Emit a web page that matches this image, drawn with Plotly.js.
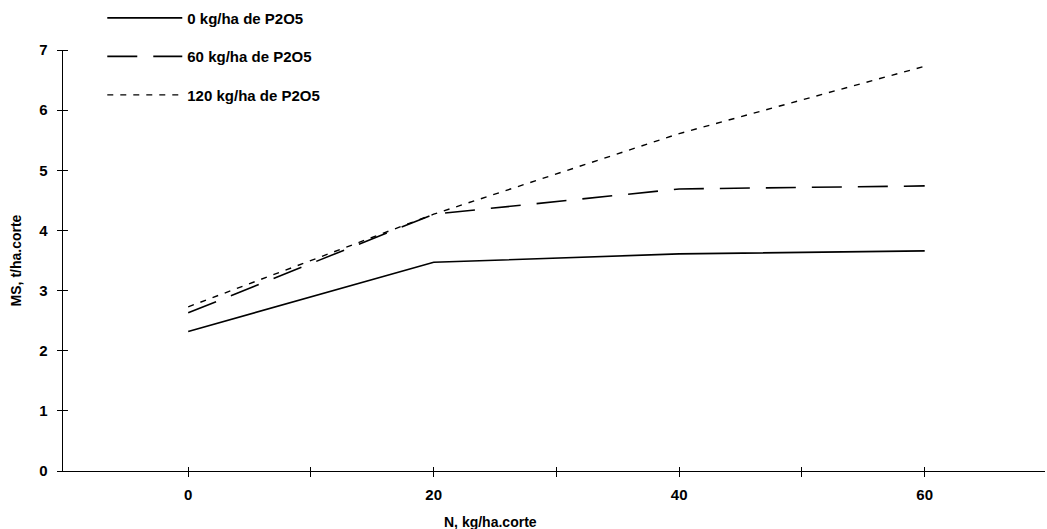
<!DOCTYPE html>
<html>
<head>
<meta charset="utf-8">
<script src="https://cdn.plot.ly/plotly-3.0.1.min.js"></script>
<style>html,body{margin:0;padding:0;background:#fff;}#chart{width:1047px;height:529px;}</style>
</head>
<body>
<div id="chart"></div>
<script>
// N doses (kg/ha.corte)
const nDoses = [0, 20, 40, 60];
// Dry matter yield (MS, t/ha.corte) for each P2O5 level
const p0 = [2.32, 3.47, 3.61, 3.66];
const p60 = [2.63, 4.27, 4.69, 4.74];
const p120 = [2.73, 4.27, 5.61, 6.73];
const seriesNames = ['0 kg/ha de P2O5', '60 kg/ha de P2O5', '120 kg/ha de P2O5'];
const xTickVals = [0, 20, 40, 60];
const xMinorVals = [0, 10, 20, 30, 40, 50, 60];
const yTickVals = [0, 1, 2, 3, 4, 5, 6, 7];
const xTitle = 'N, kg/ha.corte';
const yTitle = 'MS, t/ha.corte';

const font = {family: 'Liberation Sans, Arial, sans-serif', size: 15, color: '#000', weight: 'bold'};
const titleFont = {family: 'Liberation Sans, Arial, sans-serif', size: 14, color: '#000', weight: 'bold'};

const traces = [
  {x: nDoses, y: p0, name: seriesNames[0], legendgroup: 'a', mode: 'lines', line: {color: '#000', width: 1.6, dash: 'solid'}},
  {x: nDoses, y: p60, name: seriesNames[1], legendgroup: 'b', mode: 'lines', line: {color: '#000', width: 1.6, dash: '30px,16px'}},
  {x: nDoses, y: p120, name: seriesNames[2], legendgroup: 'c', mode: 'lines', line: {color: '#000', width: 1.4, dash: '6px,7px'}},
  // transparent trace that carries the overlay axes used for the crossing tick marks
  {x: nDoses, y: p0, xaxis: 'x2', yaxis: 'y2', mode: 'lines', line: {width: 1, color: 'rgba(0,0,0,0)'}, showlegend: false, hoverinfo: 'skip'}
];

const xr = [-10.2, 69.8];
const yr = [0, 7];
const plotW = 1047 - 63 - 2, plotH = 529 - 39 - 58;

const layout = {
  width: 1047, height: 529,
  margin: {l: 63, r: 2, t: 39, b: 58},
  paper_bgcolor: '#fff', plot_bgcolor: '#fff',
  font: font,
  showlegend: true,
  legend: {
    x: 0.04, y: 1.115, xanchor: 'left', yanchor: 'top',
    font: font, tracegroupgap: 16, itemwidth: 75,
    bgcolor: 'rgba(0,0,0,0)'
  },
  xaxis: {
    range: xr, showgrid: false, zeroline: false,
    showline: true, linecolor: '#000', linewidth: 1.3,
    tickmode: 'array', tickvals: xMinorVals,
    ticktext: xMinorVals.map(v => xTickVals.includes(v) ? String(v) : ''),
    ticks: 'outside', ticklen: 5, tickcolor: '#000', tickwidth: 1,
    ticklabelstandoff: 5,
    tickfont: font
  },
  yaxis: {
    range: yr, showgrid: false, zeroline: false,
    showline: true, linecolor: '#000', linewidth: 1.3,
    tickmode: 'array', tickvals: yTickVals,
    ticks: 'outside', ticklen: 5, tickcolor: '#000', tickwidth: 1,
    ticklabelstandoff: 6,
    tickfont: font,
    title: {text: yTitle, font: titleFont, standoff: 14}
  },
  xaxis2: {
    overlaying: 'x', range: xr, showgrid: false, zeroline: false, showline: false,
    anchor: 'free', position: 5 / plotH,
    tickmode: 'array', tickvals: xMinorVals, showticklabels: false,
    ticks: 'outside', ticklen: 10, tickcolor: '#000', tickwidth: 1, side: 'bottom'
  },
  yaxis2: {
    overlaying: 'y', range: yr, showgrid: false, zeroline: false, showline: false,
    anchor: 'free', position: 5 / plotW,
    tickmode: 'array', tickvals: yTickVals, showticklabels: false,
    ticks: 'outside', ticklen: 10, tickcolor: '#000', tickwidth: 1, side: 'left'
  },
  annotations: [
    {text: xTitle, xref: 'x', yref: 'paper', x: 24.6, y: -0.097, xanchor: 'center', yanchor: 'top', showarrow: false, font: titleFont}
  ]
};

Plotly.newPlot('chart', traces, layout, {displayModeBar: false, staticPlot: true});
</script>
</body>
</html>
